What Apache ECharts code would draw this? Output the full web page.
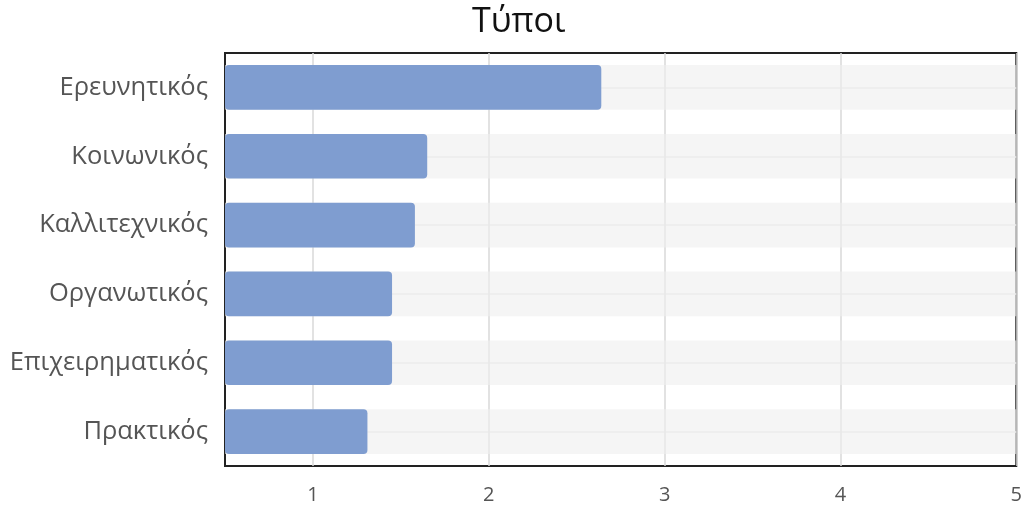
<!DOCTYPE html>
<html>
<head>
<meta charset="utf-8">
<script src="https://cdn.jsdelivr.net/npm/echarts@6/dist/echarts.min.js"></script>
<style>
  html, body { margin: 0; padding: 0; background: #fff; }
  #chart { width: 1025px; height: 506px; }
</style>
</head>
<body>
<div id="chart"></div>
<script>
// categories top to bottom as in the picture
const categories = ['Ερευνητικός', 'Κοινωνικός', 'Καλλιτεχνικός', 'Οργανωτικός', 'Επιχειρηματικός', 'Πρακτικός'];
const values = [2.64, 1.65, 1.58, 1.45, 1.45, 1.31];
const xTicks = [1, 2, 3, 4, 5];

const font = '"Open Sans", "Noto Sans", sans-serif';

const chart = echarts.init(document.getElementById('chart'), null, { renderer: 'canvas' });

chart.setOption({
  animation: false,
  title: {
    text: 'Τύποι',
    left: 467,
    top: 0,
    textStyle: { fontFamily: font, fontSize: 34, fontWeight: 'normal', color: '#111' }
  },
  grid: {
    left: 225,
    right: 5,
    top: 53,
    bottom: 40,
    show: true,
    borderColor: '#222',
    borderWidth: 2,
    containLabel: false
  },
  xAxis: {
    type: 'value',
    min: 0.5,
    max: 5,
    axisLine: { show: false },
    axisTick: { show: false, customValues: xTicks },
    axisLabel: {
      customValues: xTicks,
      fontFamily: font,
      fontSize: 20,
      color: '#555',
      margin: 19
    },
    splitLine: { show: true, lineStyle: { color: '#d9d9d9', width: 1.5 } }
  },
  yAxis: {
    type: 'category',
    data: categories,
    inverse: true,
    axisLine: { show: false },
    axisTick: { show: false },
    axisLabel: { fontFamily: font, fontSize: 25.5, color: '#555', margin: 17 },
    splitLine: { show: true, alignWithLabel: true, lineStyle: { color: '#e6e6e6', width: 1.5 } }
  },
  series: [{
    type: 'bar',
    data: values,
    barWidth: '65%',
    showBackground: true,
    backgroundStyle: { color: 'rgba(240,240,240,0.65)' },
    itemStyle: { color: '#7f9dd0', borderRadius: 4 }
  }]
});
</script>
</body>
</html>
